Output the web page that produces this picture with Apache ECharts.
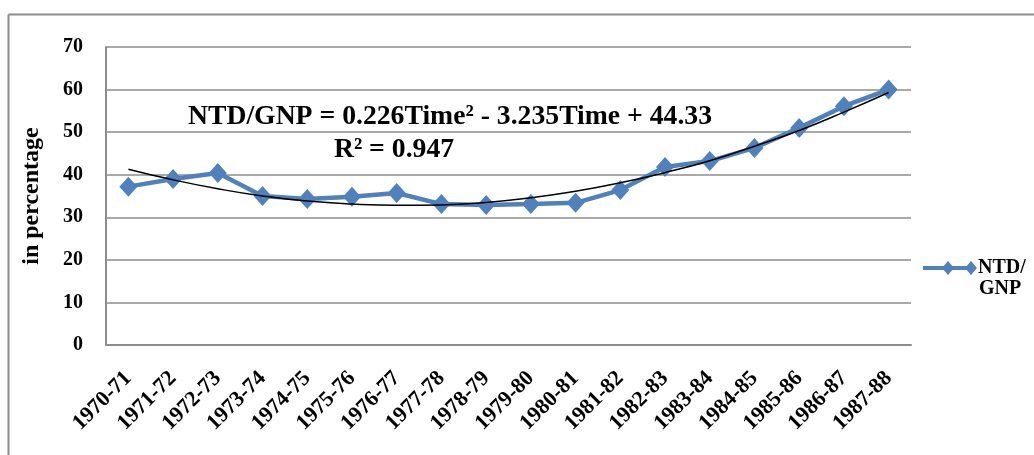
<!DOCTYPE html>
<html>
<head>
<meta charset="utf-8">
<script src="https://cdn.jsdelivr.net/npm/echarts@6/dist/echarts.min.js"></script>
<style>
html,body{margin:0;padding:0;background:#fff;}
#chart{width:1034px;height:455px;}
</style>
</head>
<body>
<div id="chart"></div>
<script>
var categories = ['1970-71','1971-72','1972-73','1973-74','1974-75','1975-76','1976-77','1977-78','1978-79','1979-80','1980-81','1981-82','1982-83','1983-84','1984-85','1985-86','1986-87','1987-88'];
var ntdGnp = [37.2, 39.0, 40.4, 35.0, 34.3, 34.8, 35.7, 33.1, 32.9, 33.1, 33.4, 36.4, 41.8, 43.2, 46.3, 51.0, 56.1, 60.0];
var trend = [41.3, 38.8, 36.7, 35.0, 33.8, 33.1, 32.8, 32.9, 33.5, 34.6, 36.1, 38.1, 40.5, 43.3, 46.7, 50.4, 54.7, 59.3];
var yTicks = [0, 70, 10];
var equationText = 'NTD/GNP = 0.226Time\u00B2 - 3.235Time + 44.33';
var r2Text = 'R\u00B2 = 0.947';
var seriesName = 'NTD/GNP';

var FONT = '"Liberation Serif", "Times New Roman", serif';
var BLUE = '#4F81BD';
var GRID = '#8c8c8c';

var chart = echarts.init(document.getElementById('chart'));
chart.setOption({
  animation: false,
  backgroundColor: '#fff',
  grid: {left: 106, top: 47, width: 805, height: 298, containLabel: false},
  xAxis: {
    type: 'category',
    data: categories,
    boundaryGap: true,
    axisLine: {show: true, lineStyle: {color: GRID, width: 2}},
    axisTick: {show: false},
    axisLabel: {
      interval: 0, rotate: 45, margin: 30,
      fontFamily: FONT, fontWeight: 'bold', fontSize: 22, color: '#000'
    },
    splitLine: {show: false}
  },
  yAxis: {
    type: 'value',
    min: yTicks[0], max: yTicks[1], interval: yTicks[2],
    name: 'in percentage',
    nameLocation: 'middle',
    nameGap: 62,
    nameTextStyle: {fontFamily: FONT, fontWeight: 'bold', fontSize: 24, color: '#000'},
    axisLine: {show: true, lineStyle: {color: GRID, width: 2}},
    axisTick: {show: false},
    axisLabel: {margin: 23, fontFamily: FONT, fontWeight: 'bold', fontSize: 20, color: '#000'},
    splitLine: {show: true, lineStyle: {color: GRID, width: 1.5}}
  },
  series: [
    {
      name: seriesName,
      type: 'line',
      data: ntdGnp,
      symbol: 'diamond',
      symbolSize: [18, 20],
      lineStyle: {color: BLUE, width: 4.5},
      itemStyle: {color: BLUE},
      z: 2
    },
    {
      name: 'trend',
      type: 'line',
      data: trend,
      smooth: 0.5,
      symbol: 'none',
      lineStyle: {color: '#000', width: 1.5},
      z: 3
    }
  ],
  graphic: [
    {type: 'line', shape: {x1: 8.5, y1: 14.5, x2: 1034, y2: 14.5}, style: {stroke: GRID, lineWidth: 2}},
    {type: 'line', shape: {x1: 8.5, y1: 14.5, x2: 8.5, y2: 455}, style: {stroke: GRID, lineWidth: 2}},
    {type: 'text', x: 450, y: 117, style: {text: equationText, font: 'bold 27.7px ' + FONT, fill: '#000', align: 'center', verticalAlign: 'middle'}},
    {type: 'text', x: 394, y: 150, style: {text: r2Text, font: 'bold 27.7px ' + FONT, fill: '#000', align: 'center', verticalAlign: 'middle'}},
    {type: 'line', shape: {x1: 923, y1: 268, x2: 972, y2: 268}, style: {stroke: BLUE, lineWidth: 4}},
    {type: 'polygon', shape: {points: [[948,261],[954,268],[948,275],[942,268]]}, style: {fill: BLUE}},
    {type: 'polygon', shape: {points: [[971,261],[977,268],[971,275],[965,268]]}, style: {fill: BLUE}},
    {type: 'text', x: 978, y: 268, style: {text: 'NTD/', font: 'bold 20px ' + FONT, fill: '#000', verticalAlign: 'middle'}},
    {type: 'text', x: 979, y: 289, style: {text: 'GNP', font: 'bold 20px ' + FONT, fill: '#000', verticalAlign: 'middle'}}
  ]
});
</script>
</body>
</html>
